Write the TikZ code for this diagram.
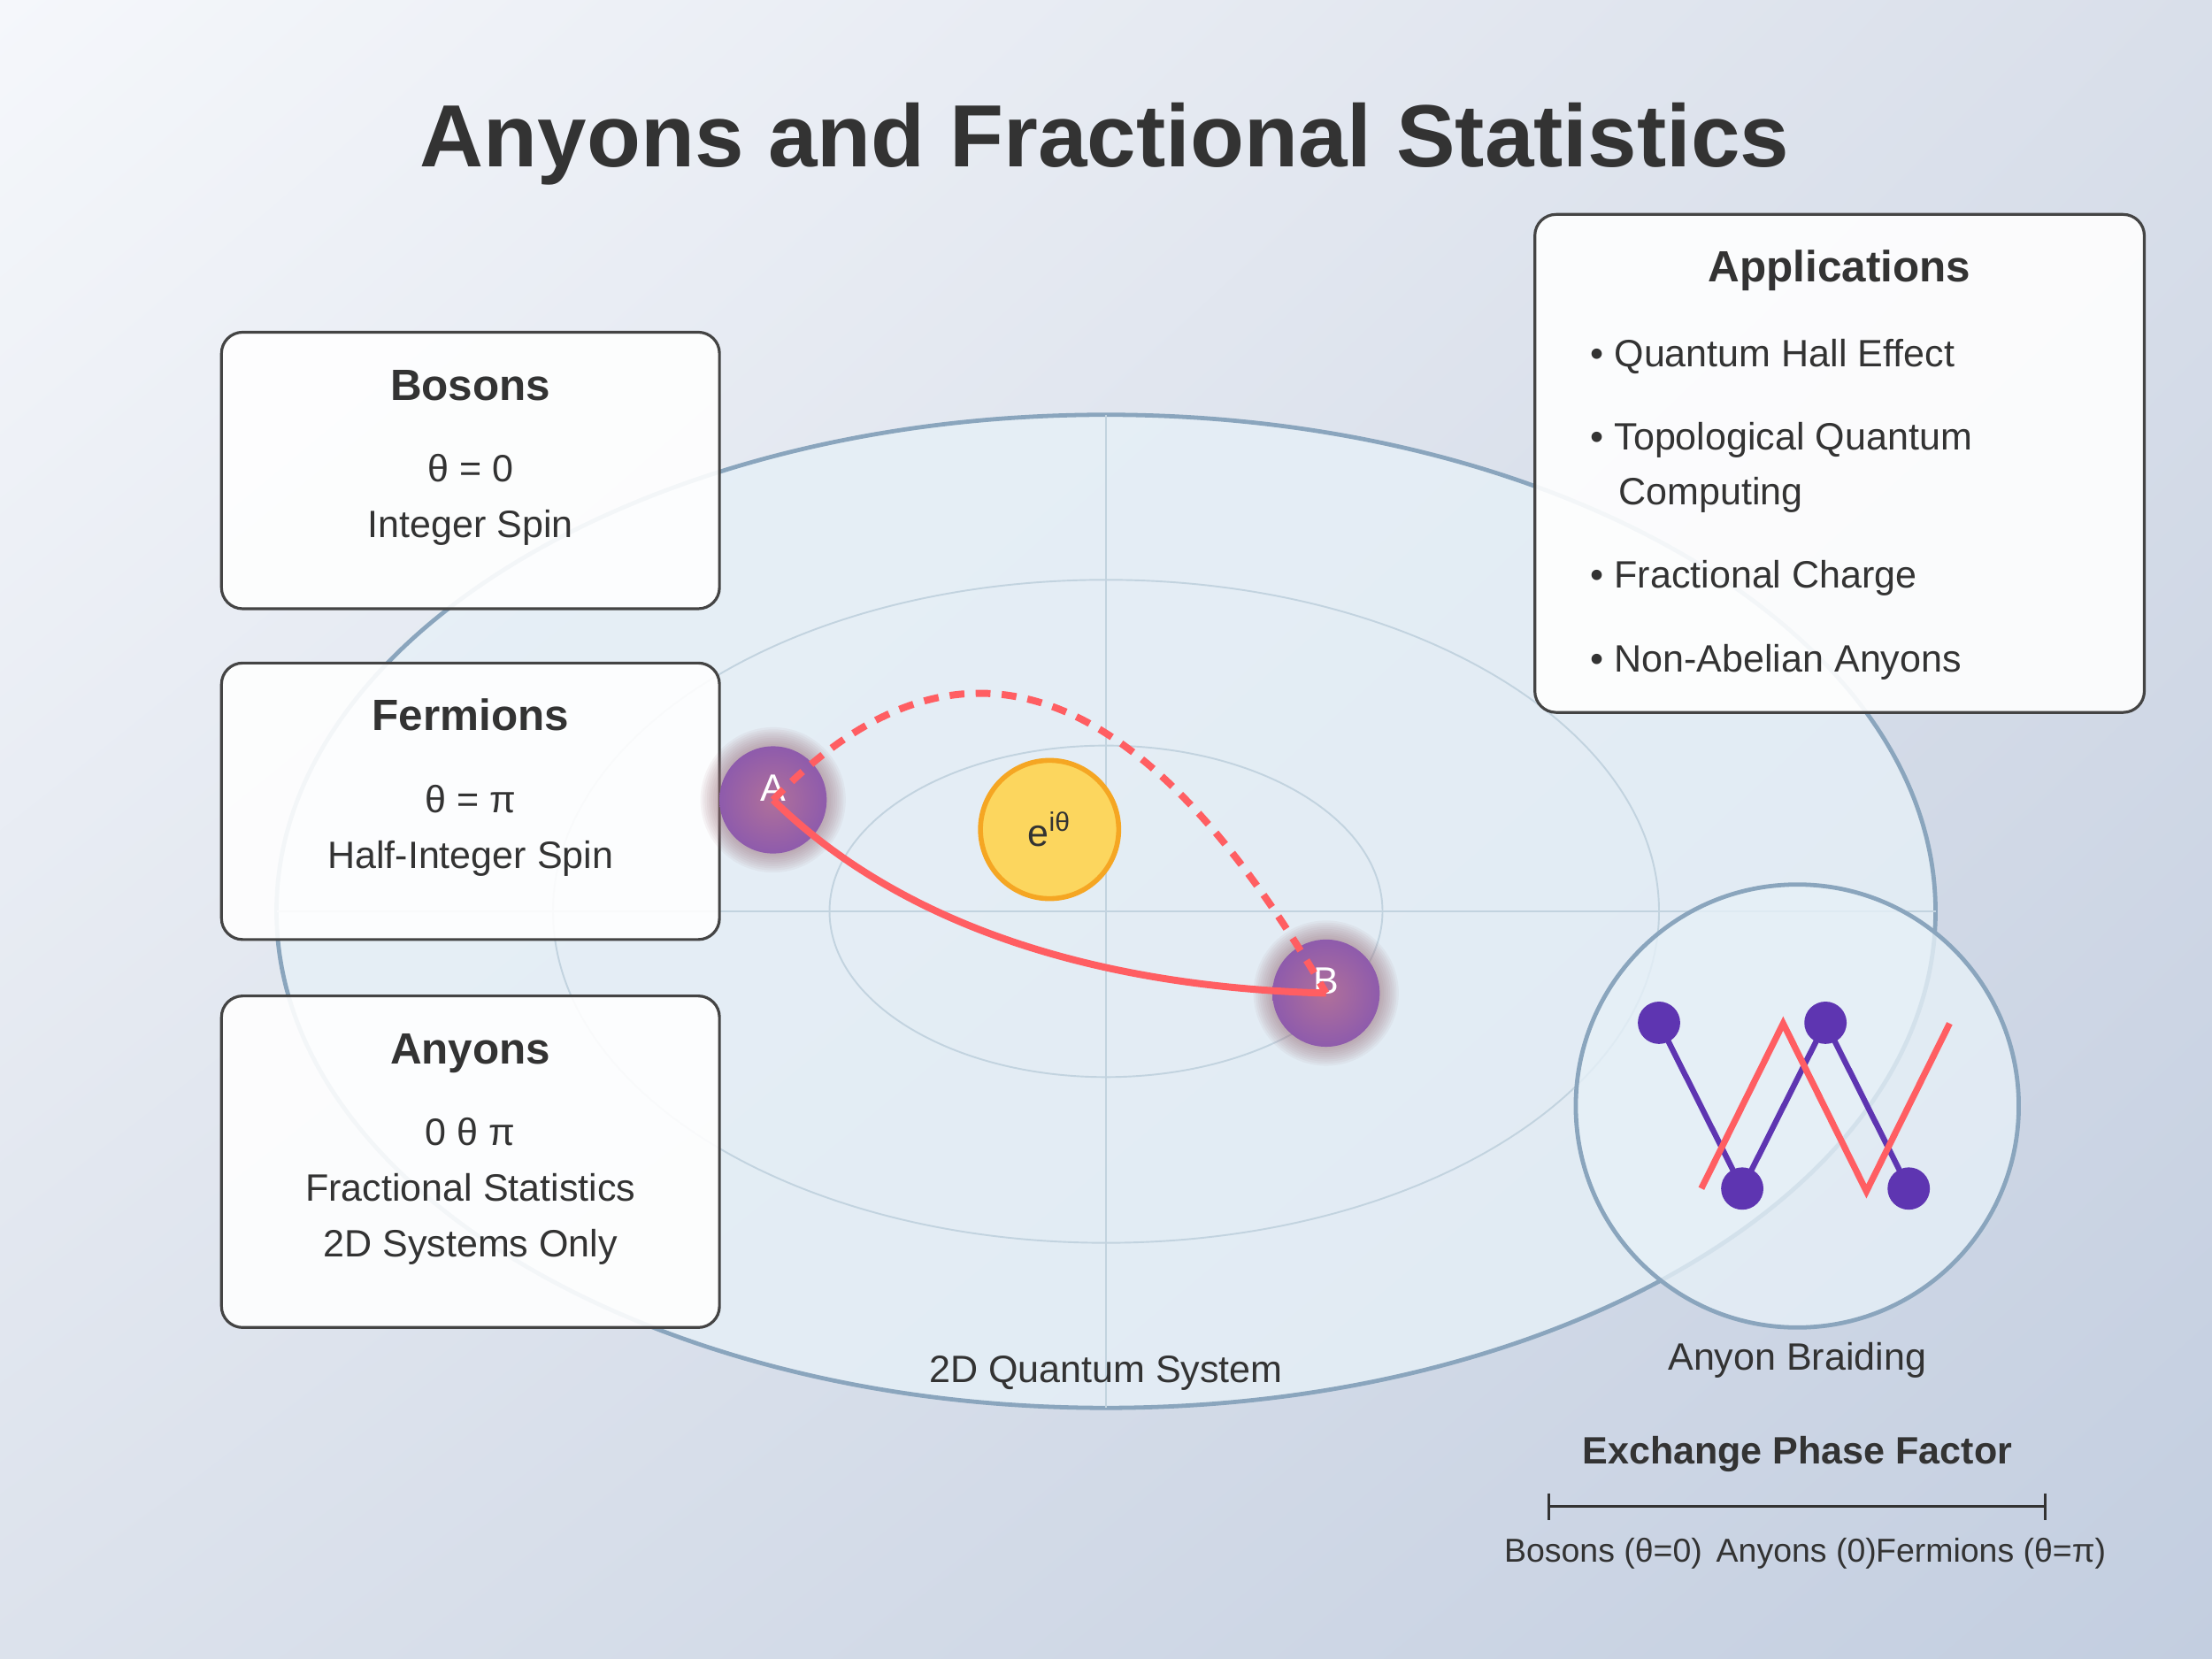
\documentclass[tikz,border=0pt]{standalone}
\usepackage{fontspec}
\setmainfont{Liberation Sans}
\usetikzlibrary{positioning,calc,shadings}

\definecolor{encre}{HTML}{333333}
\definecolor{bord}{HTML}{444444}
\definecolor{cadre}{HTML}{8AA5BD}
\definecolor{grille}{HTML}{C2D3DF}
\definecolor{plan}{HTML}{E6F0F7}
\definecolor{rouge}{HTML}{FF5E62}
\definecolor{violet}{HTML}{5E35B1}
\definecolor{jaune}{HTML}{FCD65E}
\definecolor{orange}{HTML}{F5A623}
\definecolor{halo}{HTML}{9A6E78}
\definecolor{centre}{HTML}{B0709A}
\definecolor{lila}{HTML}{8E5BAC}
\definecolor{fondA}{HTML}{F5F7FB}
\definecolor{fondB}{HTML}{D9DFEA}
\definecolor{fondC}{HTML}{DCE2EC}
\definecolor{fondD}{HTML}{C3CEE0}

\begin{document}
\begin{tikzpicture}[
    x=0.5pt, y=-0.5pt,
    font=\fontsize{13.5}{16}\selectfont, text=encre,
    boite/.style={draw=bord, line width=1pt, rounded corners=7.5pt, fill=white, fill opacity=0.9,
      minimum width=176.5pt, minimum height=98pt, inner sep=0pt},
    entete/.style={anchor=base, font=\fontsize{15.5}{18}\selectfont\bfseries},
    corps/.style={anchor=base},
    puce/.style={anchor=base west, inner sep=0pt},
    petit/.style={anchor=base, font=\fontsize{11.75}{14}\selectfont},
    grille/.style={draw=grille, line width=0.6pt},
    particule/.style={circle, minimum size=38pt, inner sep=0pt, inner color=centre, outer color=lila},
    trajet/.style={draw=rouge, line width=2.5pt},
    point/.style={circle, fill=violet, minimum size=15pt, inner sep=0pt},
  ]
  % --- Fond ---
  \shade[upper left=fondA, upper right=fondB, lower left=fondC, lower right=fondD]
    (0,0) rectangle (1568,1176);
  \path[use as bounding box] (0,0) rectangle (1568,1176);

  \node[anchor=base, font=\fontsize{31.3}{36}\selectfont\bfseries] (titre) at (783,118)
    {Anyons and Fractional Statistics};

  % --- Système 2D ---
  \coordinate (sys) at (784,646);
  \draw[cadre, line width=1.5pt, fill=plan, fill opacity=0.8] (sys) ellipse [x radius=294pt, y radius=176pt];
  \draw[grille] (sys) ellipse [x radius=196pt, y radius=117.5pt];
  \draw[grille] (sys) ellipse [x radius=98pt, y radius=58.75pt];
  \draw[grille] (196,646) -- (1372,646);
  \draw[grille] (784,294) -- (784,998);
  \node[corps] (nomsys) at (784,980) {2D Quantum System};

  % --- Boîtes de gauche ---
  \node[boite] (bos) at (333.5,333.5) {};
  \node[entete] at ($(bos.north)+(0,49)$) {Bosons};
  \node[corps] at ($(bos.north)+(0,107)$) {θ = 0};
  \node[corps] at ($(bos.north)+(0,146.5)$) {Integer Spin};

  \node[boite] (fer) at (333.5,568) {};
  \node[entete] at ($(fer.north)+(0,49)$) {Fermions};
  \node[corps] at ($(fer.north)+(0,107)$) {θ = π};
  \node[corps] at ($(fer.north)+(0,146.5)$) {Half-Integer Spin};

  \node[boite, minimum height=117.5pt] (any) at (333.5,823.5) {};
  \node[entete] at ($(any.north)+(0,49)$) {Anyons};
  \node[corps] at ($(any.north)+(0,107)$) {0 θ π};
  \node[corps] at ($(any.north)+(0,146.5)$) {Fractional Statistics};
  \node[corps] at ($(any.north)+(0,186)$) {2D Systems Only};

  % --- Applications ---
  \node[boite, minimum width=216pt, minimum height=176.5pt] (app) at (1304,328.5) {};
  \node[entete] at ($(app.north)+(0,49)$) {Applications};
  \node[puce] at (1127,259.7) {• Quantum Hall Effect};
  \node[puce] at (1127,319.1) {• Topological Quantum};
  \node[puce] at (1147,357.6) {Computing};
  \node[puce] at (1127,417) {• Fractional Charge};
  \node[puce] at (1127,476.5) {• Non-Abelian Anyons};

  % --- Facteur de phase et particules ---
  \node[circle, draw=orange, line width=1.75pt, fill=jaune, minimum size=49pt, inner sep=0pt] (phase)
    at (744,588) {e\textsuperscript{iθ}};
  \foreach \p in {(548,567), (940,704)}
    \foreach \k in {1,...,9}
      \fill[halo, opacity=0.07] \p circle [radius=19pt+\k*0.75pt];
  \node[particule] (pA) at (548,567) {};
  \node[particule] (pB) at (940,704) {};
  \node[corps, text=white] at ($(pA.center)+(0,1)$) {A};
  \node[corps, text=white] at ($(pB.center)+(0,0.5)$) {B};
  \draw[trajet] (pA.center) .. controls (645,662) and (790,700) .. (pB.center);
  \draw[trajet, dash pattern=on 5.25pt off 4pt] (pA.center) .. controls (679,432) and (809,478) .. (pB.center);

  % --- Tressage ---
  \node[circle, draw=cadre, line width=1.5pt, fill=plan, fill opacity=0.8, minimum size=157pt, inner sep=0pt] (tresse)
    at (1274,784) {};
  \node[point] (t1) at (1176,725) {};
  \node[point] (t2) at (1235,842.5) {};
  \node[point] (t3) at (1294,725) {};
  \node[point] (t4) at (1353,842.5) {};
  \draw[violet, line width=2pt] (t1.center) -- (t2.center) -- (t3.center) -- (t4.center);
  \coordinate (z0) at (1206,842.5);
  \coordinate (z1) at (1264,725.5);
  \coordinate (z2) at (1323,844.5);
  \coordinate (z3) at (1382,725.5);
  \draw[rouge, line width=2.25pt] (z0) -- (z1) -- (z2) -- (z3);
  \node[corps] at ($(tresse.south)+(0,29)$) {Anyon Braiding};

  % --- Échelle de phase ---
  \node[corps, font=\fontsize{13.5}{16}\selectfont\bfseries] (echelle) at (1274,1038) {Exchange Phase Factor};
  \coordinate (g) at (1098,1068);
  \coordinate (d) at (1450,1068);
  \draw[encre, line width=1pt] (g) -- (d);
  \draw[encre, line width=1pt] ($(g)+(0,-9.5)$) -- ($(g)+(0,9.5)$);
  \draw[encre, line width=1pt] ($(d)+(0,-9.5)$) -- ($(d)+(0,9.5)$);
  \node[petit] at (1136.5,1107) {Bosons (θ=0)};
  \node[petit] at (1273.4,1107) {Anyons (0)};
  \node[petit] at (1411.3,1107) {Fermions (θ=π)};
\end{tikzpicture}
\end{document}
